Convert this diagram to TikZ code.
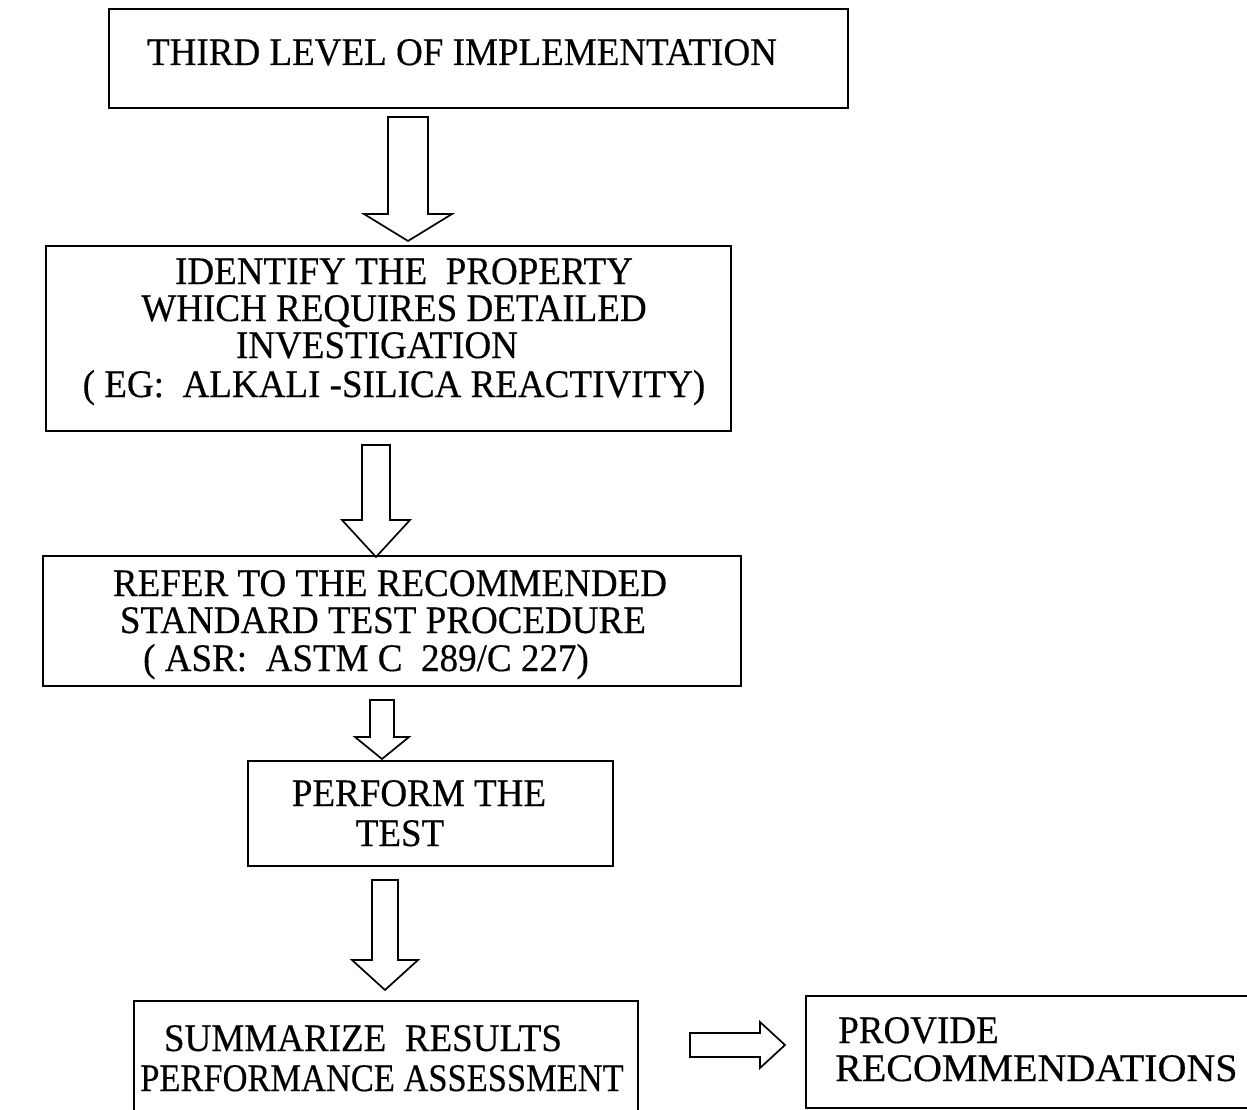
\documentclass[tikz,border=0pt]{standalone}
\usepackage{fontspec}
\usepackage{graphicx}
\setmainfont{Liberation Serif}[FakeStretch=0.95,FakeBold=0.4]
\usetikzlibrary{calc}
\begin{document}
\begin{tikzpicture}[x=1pt,y=-1pt,
  box/.style={draw,line width=1.7pt,rectangle,inner sep=0pt,anchor=north west},
  txt/.style={anchor=base,inner sep=0pt,font=\fontsize{39}{44}\selectfont},
  blk/.style={draw,line width=1.7pt,line join=miter,fill=white}]
\useasboundingbox (0,0) rectangle (1247,1110);
\clip (0,0) rectangle (1247,1110);

% boxes
\node[box,minimum width=739pt,minimum height=99pt] (b1) at (108,8) {};
\node[box,minimum width=685pt,minimum height=185pt] (b2) at (45,245) {};
\node[box,minimum width=698pt,minimum height=130pt] (b3) at (42,555) {};
\node[box,minimum width=365pt,minimum height=105pt] (b4) at (247,760) {};
\node[box,minimum width=504pt,minimum height=130pt] (b5) at (133,1000) {};
\node[box,minimum width=480pt,minimum height=112pt] (b6) at (805,995) {};

% box texts
\node[txt] (t1) at (462,65) {THIRD LEVEL OF IMPLEMENTATION};
\node[txt] (t2a) at (404,284) {IDENTIFY THE\ \ PROPERTY};
\node[txt] (t2b) at (394,321) {WHICH REQUIRES DETAILED};
\node[txt] (t2c) at (377,358) {INVESTIGATION};
\node[txt] (t2d) at (394,397) {( EG:\ \ ALKALI -SILICA REACTIVITY)};
\node[txt] (t3a) at (390,596) {REFER TO THE RECOMMENDED};
\node[txt] (t3b) at (383,633) {STANDARD TEST PROCEDURE};
\node[txt] (t3c) at (366,671) {( ASR:\ \ ASTM C\ \ 289/C 227)};
\node[txt] (t4a) at (419,806) {PERFORM THE};
\node[txt] (t4b) at (400,846) {TEST};
\node[txt] (t5a) at (363,1051) {SUMMARIZE\ \ RESULTS};
\node[txt] (t5b) at (382,1091) {\scalebox{0.93}[1]{PERFORMANCE ASSESSMENT}};
\node[txt,anchor=base west] (t6a) at (838,1043) {PROVIDE};
\node[txt,anchor=base west] (t6b) at (835,1081) {\scalebox{1.08}[1]{RECOMMENDATIONS}};

% hollow block arrows: #1 tail, #2 tip, #3 half shaft, #4 half head, #5 head length
\newcommand{\downarrowblk}[5]{%
  \draw[blk] let \p1=(#1), \p2=(#2) in
    (\x2-#3pt,\y1) -- (\x2+#3pt,\y1) -- (\x2+#3pt,\y2+#5pt) -- (\x2+#4pt,\y2+#5pt)
    -- (\p2) -- (\x2-#4pt,\y2+#5pt) -- (\x2-#3pt,\y2+#5pt) -- cycle;}
\newcommand{\rightarrowblk}[5]{%
  \draw[blk] let \p1=(#1), \p2=(#2) in
    (\x1,\y2+#3pt) -- (\x1,\y2-#3pt) -- (\x2-#5pt,\y2-#3pt) -- (\x2-#5pt,\y2-#4pt)
    -- (\p2) -- (\x2-#5pt,\y2+#4pt) -- (\x2-#5pt,\y2+#3pt) -- cycle;}

\coordinate (a1s) at (408,117);
\coordinate (a1e) at (408,241);
\coordinate (a2s) at (376,445);
\coordinate (a2e) at (376,557);
\coordinate (a3s) at (382,700);
\coordinate (a3e) at (382,759);
\coordinate (a4s) at (385,880);
\coordinate (a4e) at (385,990);
\coordinate (a5s) at (690,1045);
\coordinate (a5e) at (785,1045);

\downarrowblk{a1s}{a1e}{20}{44}{27}
\downarrowblk{a2s}{a2e}{14}{34}{37}
\downarrowblk{a3s}{a3e}{12}{27}{22}
\downarrowblk{a4s}{a4e}{13}{33}{30}
\rightarrowblk{a5s}{a5e}{12}{23}{25}
\end{tikzpicture}
\end{document}
